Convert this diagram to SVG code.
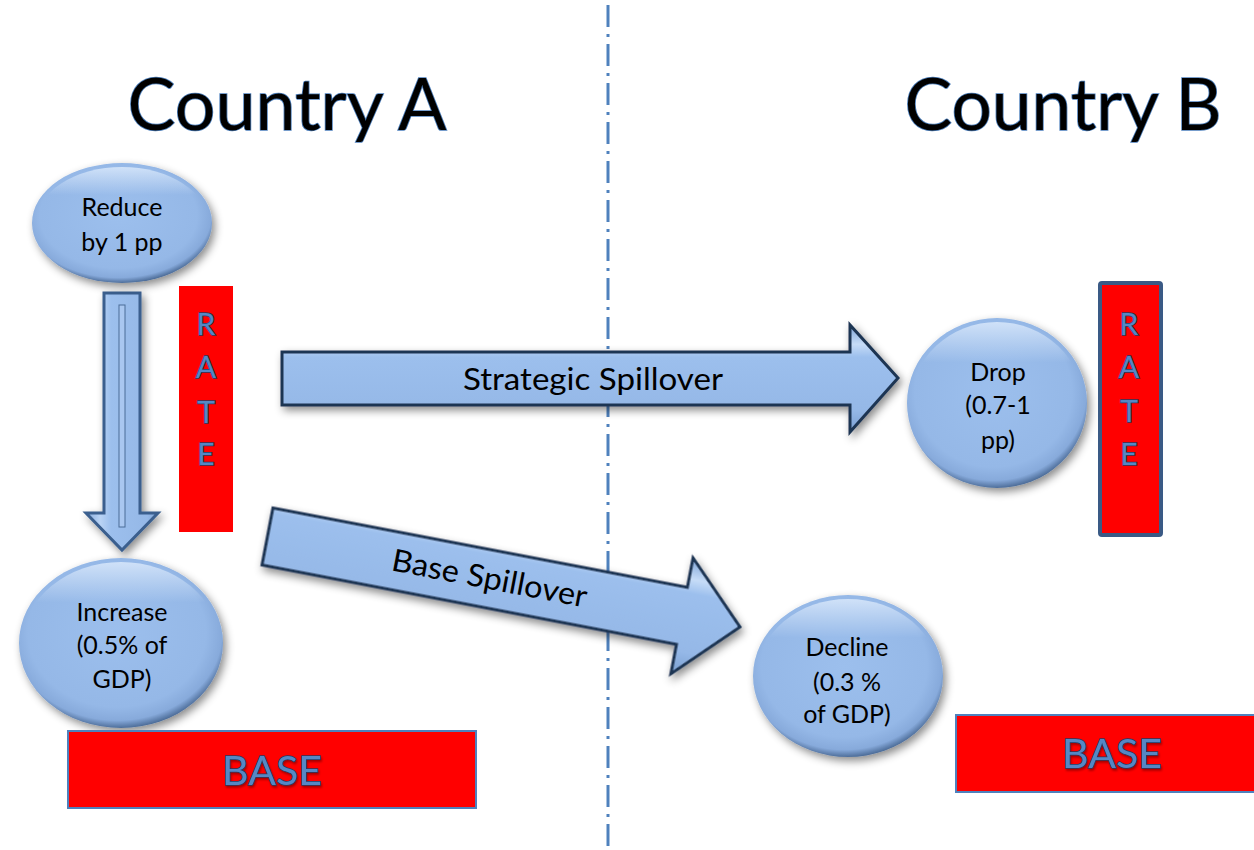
<svg xmlns="http://www.w3.org/2000/svg" width="1254" height="850" viewBox="0 0 1254 850">
<defs>
<filter id="sh" x="-20%" y="-20%" width="140%" height="150%">
<feDropShadow dx="3" dy="4" stdDeviation="4" flood-color="#000" flood-opacity="0.45"/>
</filter>
<filter id="tsh" x="-10%" y="-10%" width="120%" height="130%">
<feDropShadow dx="1" dy="2" stdDeviation="1.2" flood-color="#000" flood-opacity="0.35"/>
</filter>
<radialGradient id="eg" cx="48%" cy="44%" r="56%">
<stop offset="0" stop-color="#9cbfed"/>
<stop offset="0.78" stop-color="#95b8e7"/>
<stop offset="0.92" stop-color="#87aadb"/>
<stop offset="1" stop-color="#4e6e9a"/>
</radialGradient>
<linearGradient id="ehl" x1="0" y1="0" x2="0" y2="1">
<stop offset="0" stop-color="#d6e6fa" stop-opacity="0.9"/>
<stop offset="0.25" stop-color="#d6e6fa" stop-opacity="0"/>
</linearGradient>
<linearGradient id="ag" x1="0" y1="0" x2="0" y2="1">
<stop offset="0" stop-color="#7da3d6"/>
<stop offset="0.18" stop-color="#c6dcf7"/>
<stop offset="0.3" stop-color="#9cbfed"/>
<stop offset="0.8" stop-color="#95b8e7"/>
<stop offset="1" stop-color="#7a9fd1"/>
</linearGradient>
<linearGradient id="agv" x1="0" y1="0" x2="1" y2="0">
<stop offset="0" stop-color="#86aadc"/>
<stop offset="0.2" stop-color="#b9d3f4"/>
<stop offset="0.35" stop-color="#9cbfed"/>
<stop offset="0.85" stop-color="#95b8e7"/>
<stop offset="1" stop-color="#7ca1d3"/>
</linearGradient>
</defs>
<style>
.title{font-family:Lato,"Liberation Sans",sans-serif;font-size:72px;fill:#000;stroke:#4f81bd;stroke-width:1.6px;paint-order:stroke;text-anchor:middle}
.nt{font-family:Lato,"Liberation Sans",sans-serif;font-size:25px;fill:#000;text-anchor:middle}
.lab{font-family:Lato,"Liberation Sans",sans-serif;font-size:31px;fill:#000;text-anchor:middle}
.wa{font-family:Lato,"Liberation Sans",sans-serif;fill:#5587c4;stroke:#1f3a60;stroke-width:1.5px;paint-order:stroke;text-anchor:middle}
.ell{fill:url(#eg);filter:url(#sh)}
.hl{fill:url(#ehl)}
.arr{fill:url(#ag);stroke:#1f3553;stroke-width:3;stroke-linejoin:miter;filter:url(#sh)}
.red{fill:#ff0000}
</style>

<g id="divider">
<line x1="608" y1="5" x2="608" y2="850" stroke="#4f81bd" stroke-width="3" stroke-dasharray="22 7 3 7"/>
</g>

<g id="title-a"><text class="title" x="287" y="130" textLength="319" lengthAdjust="spacingAndGlyphs">Country A</text></g>
<g id="title-b"><text class="title" x="1063" y="130" textLength="317" lengthAdjust="spacingAndGlyphs">Country B</text></g>

<g id="connectors">
<g id="arrow-down">
<polygon class="arr" style="fill:url(#agv);stroke:#3a5f8e" points="104,293 140,293 140,513 158,513 122,550 86,513 104,513"/>
<rect x="119" y="305" width="6" height="222" fill="#a9c7f0" stroke="#4a6c98" stroke-width="1"/>
</g>
<g id="arrow-strategic">
<polygon class="arr" points="282,352 850,352 850,325 898,378 850,432 850,405 282,405"/>
<text class="lab" x="593" y="390" textLength="260" lengthAdjust="spacingAndGlyphs">Strategic Spillover</text>
</g>
<g id="arrow-base" transform="translate(267.5,536.5) rotate(10.84)">
<polygon class="arr" points="0,-29 422,-29 422,-59 481,0 422,59 422,29 0,29"/>
<text class="lab" x="226" y="10" textLength="198" lengthAdjust="spacingAndGlyphs">Base Spillover</text>
</g>
</g>

<g id="node-reduce">
<ellipse class="ell" cx="122" cy="223" rx="90" ry="60"/>
<ellipse class="hl" cx="122" cy="223" rx="86" ry="56"/>
<text class="nt" x="122" y="216">Reduce</text>
<text class="nt" x="122" y="251">by 1 pp</text>
</g>

<g id="rate-a">
<rect class="red" x="179" y="286" width="54" height="246"/>
<text class="wa" x="206" y="335" font-size="30">R</text>
<text class="wa" x="206" y="378" font-size="30">A</text>
<text class="wa" x="206" y="423" font-size="30">T</text>
<text class="wa" x="206" y="465" font-size="30">E</text>
</g>

<g id="node-increase">
<ellipse class="ell" cx="121" cy="643" rx="102" ry="85"/>
<ellipse class="hl" cx="121" cy="643" rx="98" ry="81"/>
<text class="nt" x="122" y="621">Increase</text>
<text class="nt" x="122" y="654">(0.5% of</text>
<text class="nt" x="122" y="688">GDP)</text>
</g>

<g id="base-a">
<rect class="red" x="68" y="731" width="408" height="77" stroke="#4f81bd" stroke-width="2"/>
<text class="wa" x="272" y="785" font-size="41" style="filter:url(#tsh)">BASE</text>
</g>

<g id="node-drop">
<ellipse class="ell" cx="997" cy="403" rx="90" ry="85"/>
<ellipse class="hl" cx="997" cy="403" rx="86" ry="81"/>
<text class="nt" x="998" y="381">Drop</text>
<text class="nt" x="998" y="414">(0.7-1</text>
<text class="nt" x="998" y="449">pp)</text>
</g>

<g id="rate-b">
<rect class="red" x="1100" y="283" width="61" height="252" rx="2" stroke="#3a5a85" stroke-width="4"/>
<text class="wa" x="1129" y="335" font-size="30">R</text>
<text class="wa" x="1129" y="378" font-size="30">A</text>
<text class="wa" x="1129" y="422" font-size="30">T</text>
<text class="wa" x="1129" y="465" font-size="30">E</text>
</g>

<g id="node-decline">
<ellipse class="ell" cx="848" cy="676" rx="95" ry="81"/>
<ellipse class="hl" cx="848" cy="676" rx="91" ry="77"/>
<text class="nt" x="847" y="656">Decline</text>
<text class="nt" x="847" y="691">(0.3 %</text>
<text class="nt" x="847" y="723">of GDP)</text>
</g>

<g id="base-b">
<rect class="red" x="956" y="715" width="300" height="77" stroke="#4f81bd" stroke-width="2"/>
<text class="wa" x="1112" y="768" font-size="41" style="filter:url(#tsh)">BASE</text>
</g>
</svg>
